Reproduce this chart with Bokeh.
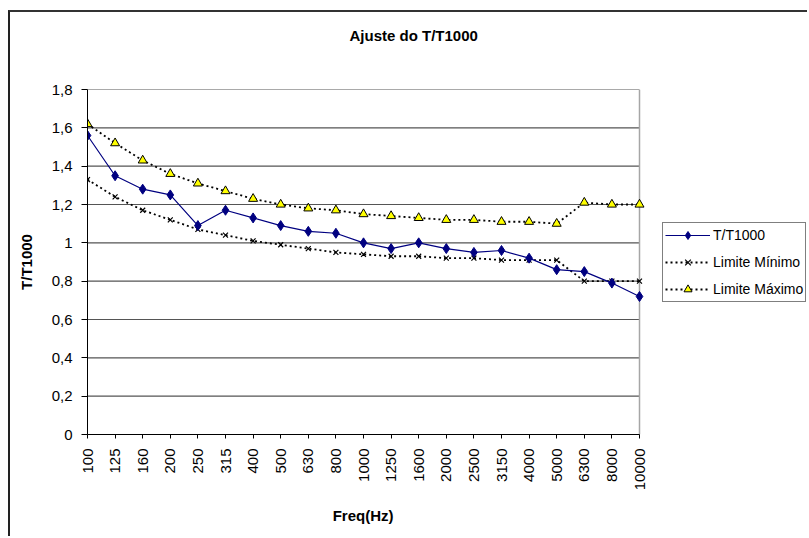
import math

from bokeh.plotting import figure
from bokeh.models import Range1d, FixedTicker, Legend, LegendItem, Title
from bokeh.embed import file_html
from bokeh.resources import INLINE

# Third-octave band centre frequencies (Hz)
freqs = ["100", "125", "160", "200", "250", "315", "400", "500", "630", "800",
         "1000", "1250", "1600", "2000", "2500", "3150", "4000", "5000",
         "6300", "8000", "10000"]

# Measured reverberation ratio T/T1000 per band
t_ratio = [1.56, 1.35, 1.28, 1.25, 1.09, 1.17, 1.13, 1.09, 1.06, 1.05,
           1.00, 0.97, 1.00, 0.97, 0.95, 0.96, 0.92, 0.86, 0.85, 0.79, 0.72]

# Tolerance band: lower and upper limits
lim_min = [1.33, 1.24, 1.17, 1.12, 1.07, 1.04, 1.01, 0.99, 0.97, 0.95,
           0.94, 0.93, 0.93, 0.92, 0.92, 0.91, 0.91, 0.91, 0.80, 0.80, 0.80]
lim_max = [1.62, 1.52, 1.43, 1.36, 1.31, 1.27, 1.23, 1.20, 1.18, 1.17,
           1.15, 1.14, 1.13, 1.12, 1.12, 1.11, 1.11, 1.10, 1.21, 1.20, 1.20]

# Value axis ticks and their comma-decimal labels
y_ticks = [0, 0.2, 0.4, 0.6, 0.8, 1.0, 1.2, 1.4, 1.6, 1.8]
y_tick_labels = ["0", "0,2", "0,4", "0,6", "0,8", "1", "1,2", "1,4", "1,6", "1,8"]

FONT = "Liberation Sans"

xs = list(range(len(freqs)))
x_first, x_last = xs[0], xs[-1]

# Plot area is 552 px wide for the 20 band intervals; the frame is widened to
# the right edge so the legend can sit beside the plot area inside it.
PLOT_W = 552
FRAME_W = 722
x_end = x_last * FRAME_W / PLOT_W

p = figure(width=799, height=526, output_backend="svg", toolbar_location=None,
           title=None,
           x_range=Range1d(x_first, x_end), y_range=Range1d(0, 1.8),
           min_border_left=77, min_border_right=0,
           min_border_top=77, min_border_bottom=104)
# framed chart area starting a few pixels in from the top-left corner
p.margin = (10, 0, 0, 8)
p.styles = {"border-left": "2px solid #222222", "border-top": "2px solid #333333"}
p.background_fill_color = "white"
p.border_fill_color = "white"
p.outline_line_color = None

# Horizontal gridlines across the plot area, and its right-hand border
p.xgrid.visible = False
p.ygrid.visible = False
p.segment(x0=[x_first] * len(y_ticks), y0=y_ticks,
          x1=[x_last] * len(y_ticks), y1=y_ticks,
          line_color="#555555", line_width=1.2)
p.segment(x0=[x_last], y0=[y_ticks[0]], x1=[x_last], y1=[y_ticks[-1]],
          line_color="#a6a6a6", line_width=1.5)

# Category axis; the axis title is centred under the plot area (not the
# wider frame), so it is padded on the right with no-break spaces.
xa = p.xaxis[0]
xa.bounds = (x_first, x_last)
xa.ticker = FixedTicker(ticks=xs)
xa.major_label_overrides = {i: f for i, f in zip(xs, freqs)}
xa.major_label_orientation = math.pi / 2
xa.minor_tick_line_color = None
xa.major_tick_in = 0
xa.major_tick_out = 4
xa.major_label_standoff = 10
xa.axis_line_color = "black"
xa.major_tick_line_color = "black"
xa.major_label_text_font = FONT
xa.major_label_text_font_size = "15px"
xa.major_label_text_color = "black"
xa.axis_label = "Freq(Hz)" + "\u00a0" * 41
xa.axis_label_text_font = FONT
xa.axis_label_text_font_size = "15px"
xa.axis_label_text_font_style = "bold"
xa.axis_label_text_color = "black"
xa.axis_label_standoff = 14

# Value axis
ya = p.yaxis[0]
ya.ticker = FixedTicker(ticks=y_ticks)
ya.major_label_overrides = {t: s for t, s in zip(y_ticks, y_tick_labels)}
ya.minor_tick_line_color = None
ya.major_tick_in = 0
ya.major_tick_out = 6
ya.major_label_standoff = 9
ya.axis_line_color = "black"
ya.major_tick_line_color = "black"
ya.major_label_text_font = FONT
ya.major_label_text_font_size = "15px"
ya.major_label_text_color = "black"
ya.axis_label = "T/T1000"
ya.axis_label_text_font = FONT
ya.axis_label_text_font_size = "15px"
ya.axis_label_text_font_style = "bold"
ya.axis_label_text_color = "black"
ya.axis_label_standoff = 14

# Series
l_min = p.line(xs, lim_min, line_color="black", line_width=1.8, line_dash="2 3")
s_min = p.scatter(xs, lim_min, marker="x", size=7, line_color="black", line_width=1.2)

l_max = p.line(xs, lim_max, line_color="black", line_width=1.8, line_dash="2 3")
s_max = p.scatter(xs, lim_max, marker="triangle", size=9, fill_color="#ffff00",
                  line_color="black", line_width=1)

l_t = p.line(xs, t_ratio, line_color="#000080", line_width=1.2)
s_t = p.scatter(xs, t_ratio, marker="diamond", size=10, fill_color="#000080",
                line_color="#000080")

legend = Legend(items=[
    LegendItem(label="T/T1000", renderers=[l_t, s_t]),
    LegendItem(label="Limite Mínimo", renderers=[l_min, s_min]),
    LegendItem(label="Limite Máximo", renderers=[l_max, s_max]),
], location=(575, 132))
legend.border_line_color = "black"
legend.border_line_width = 1
legend.background_fill_color = "white"
legend.background_fill_alpha = 1
legend.label_text_font = FONT
legend.label_text_font_size = "14px"
legend.label_text_color = "black"
legend.glyph_width = 45
legend.glyph_height = 20
legend.label_height = 20
legend.label_standoff = 3
legend.padding = 2
legend.spacing = 7
legend.margin = 0
p.add_layout(legend, "center")

# Blank band between the plot area and the chart title
p.add_layout(Title(text=" ", text_font_size="1px", standoff=43), "above")

# Chart title
p.add_layout(Title(text="Ajuste do T/T1000", align="left", offset=262,
                   standoff=0, text_font=FONT, text_font_size="15px",
                   text_font_style="bold", text_color="black"), "above")

open("out.html", "w").write(file_html(p, INLINE))
